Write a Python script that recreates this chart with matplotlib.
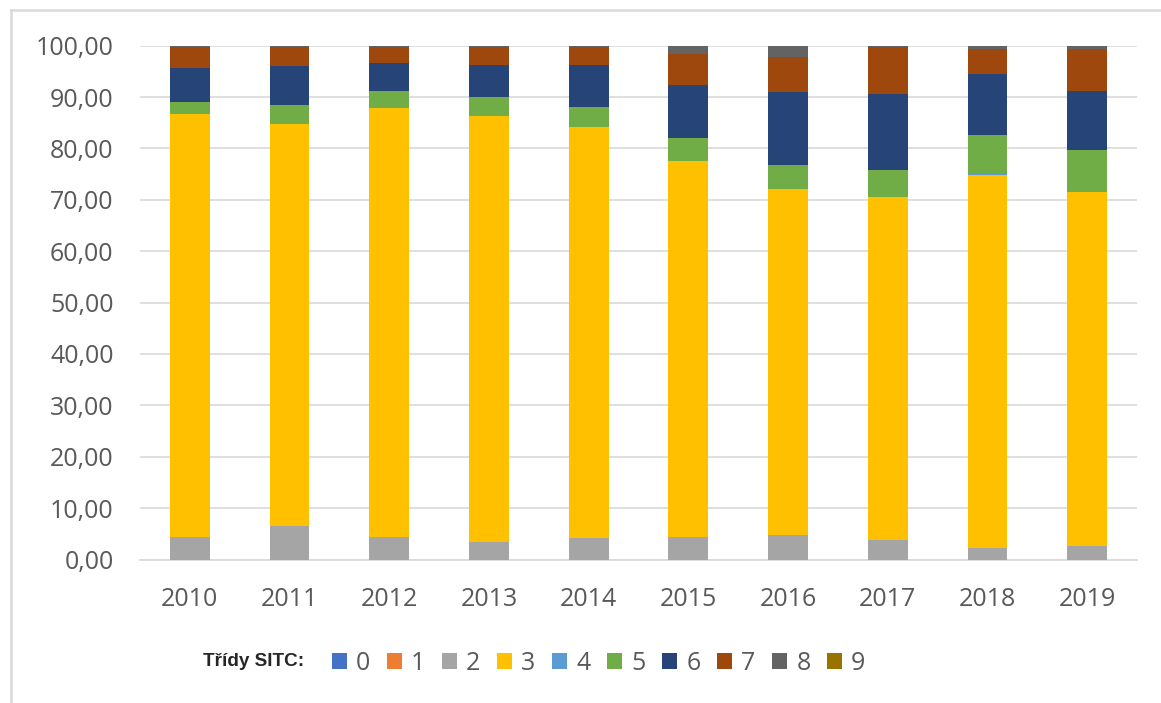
import matplotlib
matplotlib.use("Agg")
import matplotlib.pyplot as plt
from matplotlib.patches import Patch
from matplotlib.lines import Line2D
import numpy as np

years = ["2010", "2011", "2012", "2013", "2014", "2015", "2016", "2017", "2018", "2019"]
classes = ["0", "1", "2", "3", "4", "5", "6", "7", "8", "9"]

sitc0 = [0.0, 0.0, 0.0, 0.0, 0.0, 0.0, 0.0, 0.0, 0.0, 0.0]
sitc1 = [0.0, 0.0, 0.0, 0.0, 0.0, 0.0, 0.0, 0.0, 0.0, 0.0]
sitc2 = [4.4, 6.6, 4.4, 3.5, 4.1, 4.4, 4.8, 3.8, 2.2, 2.6]
sitc3 = [82.3, 78.2, 83.4, 82.8, 80.1, 73.2, 67.3, 66.8, 72.6, 68.9]
sitc4 = [0.0, 0.0, 0.0, 0.0, 0.0, 0.0, 0.0, 0.0, 0.4, 0.0]
sitc5 = [2.35, 3.6, 3.3, 3.65, 3.9, 4.5, 4.6, 5.15, 7.5, 8.2]
sitc6 = [6.65, 7.65, 5.5, 6.25, 8.1, 10.25, 14.2, 14.85, 11.8, 11.5]
sitc7 = [4.1, 3.75, 3.2, 3.6, 3.6, 6.05, 6.9, 9.1, 4.85, 8.15]
sitc8 = [0.2, 0.2, 0.2, 0.2, 0.2, 1.6, 2.2, 0.3, 0.65, 0.65]
sitc9 = [0.0, 0.0, 0.0, 0.0, 0.0, 0.0, 0.0, 0.0, 0.0, 0.0]

yticks = [0, 10, 20, 30, 40, 50, 60, 70, 80, 90, 100]

series = [sitc0, sitc1, sitc2, sitc3, sitc4, sitc5, sitc6, sitc7, sitc8, sitc9]
colors = ["#4472C4", "#ED7D31", "#A5A5A5", "#FFC000", "#5B9BD5",
          "#70AD47", "#264478", "#9E480E", "#636363", "#997300"]

TXT = "#595959"
FONT = "Open Sans"

fig = plt.figure(figsize=(11.61, 7.03), dpi=100)
ax = fig.add_axes([140 / 1161, 1 - 559.5 / 703, (1137 - 140) / 1161, (559.5 - 45.7) / 703])

x = np.arange(len(years))
bottom = np.zeros(len(years))
for vals, c in zip(series, colors):
    v = np.array(vals)
    ax.bar(x, v, 0.4, bottom=bottom, color=c, linewidth=0, zorder=3)
    bottom += v

ax.set_xlim(-0.5, len(years) - 0.5)
ax.set_ylim(0, 100)
ax.set_yticks(yticks)
ax.set_yticklabels([f"{t:.2f}".replace(".", ",") for t in yticks])
ax.set_xticks(x)
ax.set_xticklabels(years)
ax.yaxis.grid(True, color="#D9D9D9", linewidth=1.2, zorder=0)
ax.set_axisbelow(True)
for s in ["top", "right", "left"]:
    ax.spines[s].set_visible(False)
ax.spines["bottom"].set_color("#D9D9D9")
ax.spines["bottom"].set_linewidth(1.2)
ax.tick_params(axis="both", length=0, labelsize=18, labelcolor=TXT)
ax.tick_params(axis="y", pad=19)
ax.tick_params(axis="x", pad=20)
for lab in ax.get_xticklabels() + ax.get_yticklabels():
    lab.set_fontfamily(FONT)

# legend
handles = [Patch(facecolor=c, edgecolor="none") for c in colors]
leg = fig.legend(handles, classes, ncol=10, loc="center left",
                 bbox_to_anchor=(332 / 1161, 1 - 663 / 703), frameon=False,
                 prop={"family": FONT, "size": 18},
                 handlelength=0.6, handleheight=0.6, handletextpad=0.36,
                 columnspacing=0.67, borderpad=0, borderaxespad=0)
for t in leg.get_texts():
    t.set_color(TXT)
fig.text(203 / 1161, 1 - 662 / 703, "Třídy SITC:", fontsize=13.6, fontweight="bold",
         family="Liberation Sans", color="#262626", ha="left", va="center")

# chart border (left and top visible)
fig.add_artist(Line2D([11 / 1161, 11 / 1161], [0, 1 - 10 / 703], transform=fig.transFigure,
                      color="#D9D9D9", linewidth=1.8))
fig.add_artist(Line2D([11 / 1161, 1], [1 - 10 / 703, 1 - 10 / 703], transform=fig.transFigure,
                      color="#D9D9D9", linewidth=1.8))

fig.savefig("out.png", dpi=100)
